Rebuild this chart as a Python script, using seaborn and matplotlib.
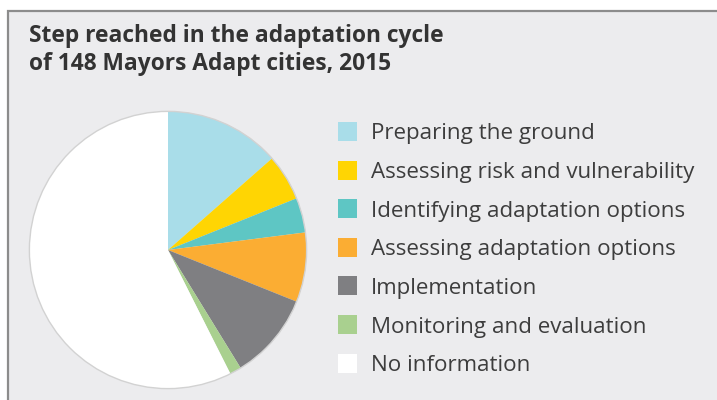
import matplotlib
matplotlib.use("Agg")
import matplotlib.pyplot as plt
from matplotlib.patches import Rectangle, Circle
import seaborn as sns

# Number of cities at each step of the adaptation cycle (148 in total)
steps = [
    "Preparing the ground",
    "Assessing risk and vulnerability",
    "Identifying adaptation options",
    "Assessing adaptation options",
    "Implementation",
    "Monitoring and evaluation",
    "No information",
]
cities = [20, 8, 6, 12, 15, 2, 85]
colors = ["#a9dde9", "#ffd503", "#5ec6c4", "#fbad33", "#7f7f82", "#a9d08f", "#ffffff"]

title_lines = ["Step reached in the adaptation cycle", "of 148 Mayors Adapt cities, 2015"]

sns.set_theme(style="white")
plt.rcParams["font.family"] = ["Open Sans", "DejaVu Sans"]

W, H = 717, 400
fig = plt.figure(figsize=(W / 100, H / 100), dpi=100)
fig.patch.set_facecolor("white")

# Grey panel with a thin border on the left and top
panel = Rectangle((8 / W, -0.05), 1.2, (H - 11) / H + 0.05, transform=fig.transFigure,
                  facecolor="#ececee", edgecolor="#8c8c8c", linewidth=1.6, zorder=-5)
fig.patches.append(panel)

for j, line in enumerate(title_lines):
    fig.text(29 / W, 1 - (42 + 28.5 * j) / H, line, fontsize=16.4, fontweight="bold",
             color="#333333", ha="left", va="baseline")

# Pie chart
cx, cy, r = 168, 250, 140
ax = fig.add_axes([(cx - r) / W, (H - cy - r) / H, 2 * r / W, 2 * r / H], zorder=1)
ax.patch.set_alpha(0)
ax.pie(cities, colors=colors, startangle=90, counterclock=False,
       wedgeprops=dict(linewidth=0), radius=1)
ax.add_patch(Circle((0, 0), 1, fill=False, edgecolor="#d2d2d2", linewidth=1.0))
ax.set_xlim(-1.01, 1.01)
ax.set_ylim(-1.01, 1.01)
ax.set_aspect("equal")
ax.axis("off")

# Legend
sq = 19
x0, y0, dy = 338, 122, 38.6
for i, (lab, col) in enumerate(zip(steps, colors)):
    top = y0 + i * dy
    fig.patches.append(Rectangle((x0 / W, 1 - (top + sq) / H), sq / W, sq / H,
                                 transform=fig.transFigure, facecolor=col,
                                 edgecolor="none", zorder=2))
    fig.text(371 / W, 1 - (top + sq / 2) / H, lab, fontsize=16.1, color="#3d3d3d",
             ha="left", va="center_baseline")

fig.savefig("out.png", dpi=100)
